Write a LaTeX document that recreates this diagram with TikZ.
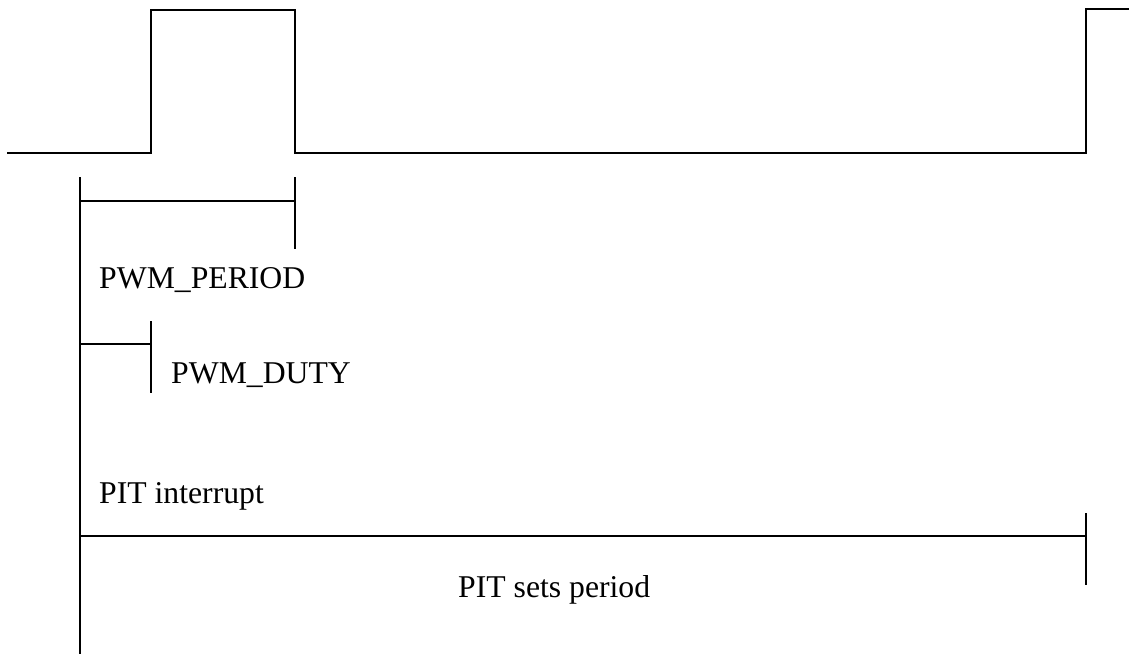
\documentclass[tikz,border=0pt]{standalone}
\usepackage{fontspec}
\setmainfont{Liberation Serif}
\usetikzlibrary{positioning}
\tikzset{
  wave/.style={line width=1.6pt, line join=miter},
  marker/.style={line width=1.6pt},
  label/.style={inner sep=0pt, anchor=base west, font=\fontsize{31.7}{38}\selectfont},
}
\begin{document}
\begin{tikzpicture}[x=1pt, y=-1pt]
  \useasboundingbox (0,0) rectangle (1129,654);

  % Signal
  \coordinate (s0) at (7,153);
  \coordinate (r1) at (151,153);
  \coordinate (f1) at (295,153);
  \coordinate (r2) at (1086,153);
  \coordinate (s1) at (1129,9);
  \draw[wave] (s0) -- (r1) |- (295,10) -- (f1) -- (r2) |- (s1);

  % Time axis
  \coordinate (t0) at (80,177);
  \coordinate (tb) at (80,654);
  \draw[marker] (t0) -- (tb);

  % Period bracket
  \coordinate (p0) at (80,201);
  \coordinate (pa) at (295,177);
  \coordinate (pb) at (295,249);
  \draw[marker] (pa) -- (pb);
  \draw[marker] (p0) -- (p0 -| pa);
  \node[label] (period) at (99,288) {PWM\_PERIOD};

  % Duty bracket
  \coordinate (d0) at (80,344);
  \coordinate (da) at (151,321);
  \coordinate (db) at (151,393);
  \draw[marker] (da) -- (db);
  \draw[marker] (d0) -- (d0 -| da);
  \node[label] (duty) at (171,383) {PWM\_DUTY};

  % PIT
  \node[label] (pit) at (99,503) {PIT interrupt};
  \coordinate (i0) at (80,536);
  \coordinate (ia) at (1086,513);
  \coordinate (ib) at (1086,585);
  \draw[marker] (ia) -- (ib);
  \draw[marker] (i0) -- (i0 -| ia);
  \node[label] (sets) at (458,597) {PIT sets period};

\end{tikzpicture}
\end{document}
